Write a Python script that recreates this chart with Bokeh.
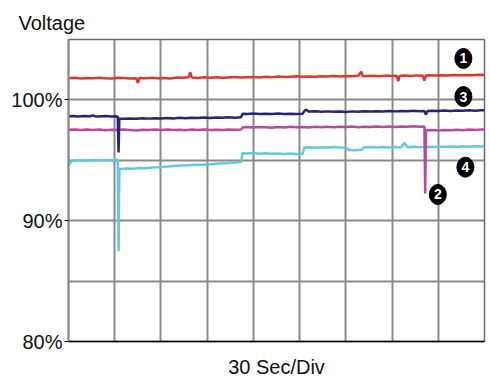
from bokeh.plotting import figure
from bokeh.models import FixedTicker, Range1d, ColumnDataSource
from bokeh.embed import file_html
from bokeh.resources import INLINE
from bokeh.core.properties import value

# ---- data (time in seconds, voltage in % of nominal) ----
red_t = [0, 4, 8, 12, 16, 20, 24, 28, 32, 36, 40, 44, 45, 46, 50, 54, 58, 62, 66, 70, 74, 78, 79, 80,
         84, 88, 92, 96, 100, 104, 108, 112, 116, 120, 124, 128, 132, 136, 140, 144, 148, 152, 156, 160,
         164, 168, 172, 176, 180, 184, 188, 190, 191, 194, 198, 202, 206, 210, 213, 214, 215, 218, 222,
         226, 230, 231, 232, 234, 238, 242, 246, 250, 254, 258, 262, 266, 270]
red_v = [101.80, 101.83, 101.78, 101.82, 101.79, 101.84, 101.80, 101.77, 101.83, 101.81, 101.78, 101.80,
         101.40, 101.82, 101.79, 101.84, 101.80, 101.82, 101.78, 101.86, 101.83, 101.88, 102.28, 101.85,
         101.82, 101.87, 101.84, 101.88, 101.83, 101.86, 101.89, 101.85, 101.88, 101.90, 101.86, 101.91,
         101.88, 101.93, 101.89, 101.92, 101.95, 101.91, 101.94, 101.92, 101.96, 101.93, 101.97, 101.94,
         101.98, 101.95, 101.99, 102.33, 101.96, 101.98, 102.00, 101.96, 102.01, 101.98, 102.00, 101.55,
         101.99, 102.02, 101.98, 102.03, 102.00, 101.60, 102.02, 102.04, 102.01, 102.05, 102.03, 102.06,
         102.04, 102.07, 102.05, 102.08, 102.07]

navy_t = [0, 3, 6, 10, 14, 16, 17, 20, 24, 28, 31, 32, 32.5, 33, 36, 40, 44, 48, 52, 56, 60, 64, 68, 72,
          76, 80, 84, 88, 92, 96, 100, 104, 108, 112, 113, 116, 120, 124, 128, 132, 136, 140, 144, 148,
          152, 153, 154, 156, 160, 164, 168, 172, 176, 180, 184, 188, 192, 196, 200, 204, 208, 212, 216,
          220, 224, 228, 231, 232, 233, 236, 240, 244, 248, 252, 256, 260, 264, 268, 270]
navy_v = [98.62, 98.66, 98.63, 98.67, 98.64, 98.72, 98.65, 98.63, 98.66, 98.62, 98.64, 98.60, 95.65,
          98.45, 98.43, 98.47, 98.44, 98.48, 98.45, 98.49, 98.46, 98.50, 98.47, 98.52, 98.48, 98.53,
          98.50, 98.54, 98.51, 98.55, 98.52, 98.56, 98.53, 98.57, 98.85, 98.83, 98.87, 98.84, 98.86,
          98.83, 98.87, 98.84, 98.86, 98.83, 98.86, 99.05, 99.20, 99.03, 99.06, 99.02, 99.05, 99.01,
          99.04, 99.00, 99.05, 99.02, 99.06, 99.03, 99.07, 99.04, 99.08, 99.05, 99.09, 99.06, 99.10,
          99.07, 99.08, 98.78, 99.09, 99.11, 99.08, 99.12, 99.09, 99.13, 99.10, 99.14, 99.11, 99.15, 99.14]

mag_t = [0, 4, 8, 12, 16, 20, 24, 28, 32, 36, 40, 44, 48, 52, 56, 60, 64, 68, 72, 76, 80, 84, 88, 92,
         96, 100, 104, 108, 112, 113, 116, 120, 124, 128, 132, 136, 140, 144, 148, 152, 156, 160, 164,
         168, 172, 176, 180, 184, 188, 192, 196, 200, 204, 208, 212, 216, 220, 224, 228, 231, 231.5,
         232, 236, 240, 244, 248, 252, 256, 260, 264, 268, 270]
mag_v = [97.52, 97.55, 97.50, 97.54, 97.51, 97.55, 97.49, 97.53, 97.50, 97.54, 97.51, 97.47, 97.53,
         97.50, 97.54, 97.51, 97.55, 97.50, 97.53, 97.49, 97.54, 97.51, 97.55, 97.50, 97.53, 97.51,
         97.55, 97.52, 97.54, 97.72, 97.75, 97.71, 97.76, 97.73, 97.70, 97.75, 97.72, 97.77, 97.73,
         97.76, 97.72, 97.78, 97.74, 97.77, 97.73, 97.78, 97.75, 97.79, 97.74, 97.78, 97.75, 97.80,
         97.76, 97.79, 97.75, 97.80, 97.77, 97.81, 97.78, 97.80, 92.25, 97.47, 97.50, 97.46, 97.51,
         97.48, 97.52, 97.49, 97.54, 97.51, 97.56, 97.55]

cyan_t = [0, 1, 2, 4, 8, 12, 16, 20, 24, 28, 32, 32.5, 33, 34, 38, 42, 46, 50, 54, 58, 62, 66, 70, 74,
          78, 82, 86, 90, 94, 98, 102, 106, 110, 112, 113, 116, 120, 124, 128, 132, 136, 140, 144, 148,
          152, 153, 156, 160, 164, 168, 172, 176, 180, 182, 186, 190, 192, 196, 200, 204, 208, 212, 216,
          218, 220, 224, 228, 232, 236, 240, 244, 248, 252, 256, 260, 264, 268, 270]
cyan_v = [94.55, 94.75, 94.92, 94.98, 95.00, 94.97, 95.02, 94.99, 95.03, 95.00, 95.05, 87.48, 94.30,
          94.28, 94.33, 94.31, 94.37, 94.34, 94.40, 94.42, 94.45, 94.50, 94.54, 94.57, 94.60, 94.63,
          94.62, 94.68, 94.70, 94.74, 94.76, 94.80, 94.84, 94.88, 95.58, 95.56, 95.60, 95.55, 95.58,
          95.54, 95.57, 95.53, 95.56, 95.52, 95.55, 96.05, 96.08, 96.04, 96.09, 96.05, 96.10, 96.06,
          96.03, 95.86, 95.83, 95.87, 96.08, 96.11, 96.07, 96.10, 96.06, 96.11, 96.08, 96.45, 96.09,
          96.12, 96.08, 96.13, 96.10, 96.14, 96.11, 96.15, 96.12, 96.16, 96.13, 96.17, 96.15, 96.17]

# numbered series markers (t, %)
mark_t = [256.3, 239.7, 256.3, 257.6]
mark_v = [103.43, 92.17, 100.28, 94.43]
mark_lbl = ["1", "2", "3", "4"]

y_ticks = [80, 90, 100]
y_labels = {80: "80%", 90: "90%", 100: "100%"}
grid_x = [30, 60, 90, 120, 150, 180, 210, 240]
grid_y = [85, 90, 95, 100]

FONT = "Liberation Sans"

p = figure(width=490, height=381, output_backend="svg", toolbar_location=None,
           x_range=Range1d(0, 270), y_range=Range1d(80, 105),
           min_border_left=68, min_border_right=6, min_border_top=39, min_border_bottom=40,
           background_fill_color="white", border_fill_color="white")

p.title.text = "Voltage"
p.title.align = "left"
p.title.offset = -50
p.title.text_font = FONT
p.title.text_font_size = "20px"
p.title.text_font_style = "normal"
p.title.text_color = "#111111"
p.title.standoff = 12

p.outline_line_color = "#6a6a6a"
p.outline_line_width = 1.5

p.xgrid.ticker = FixedTicker(ticks=grid_x)
p.ygrid.ticker = FixedTicker(ticks=grid_y)
for g in (p.xgrid, p.ygrid):
    g.grid_line_color = "#8a8a8a"
    g.grid_line_width = 2

# y axis
p.yaxis.ticker = FixedTicker(ticks=y_ticks)
p.yaxis.major_label_overrides = y_labels
p.yaxis.major_label_text_font = FONT
p.yaxis.major_label_text_font_size = "20px"
p.yaxis.major_label_text_color = "#111111"
p.yaxis.major_label_standoff = 2
p.yaxis.major_tick_out = 4
p.yaxis.major_tick_in = 0
p.yaxis.major_tick_line_color = "black"
p.yaxis.minor_tick_line_color = None
p.yaxis.axis_line_color = "#8a8a8a"
p.yaxis.axis_line_width = 2

# x axis
p.xaxis.ticker = FixedTicker(ticks=[])
p.xaxis.major_label_text_font_size = "0px"
p.xaxis.major_label_standoff = 0
p.xaxis.major_tick_line_color = None
p.xaxis.minor_tick_line_color = None
p.xaxis.axis_line_color = "black"
p.xaxis.axis_line_width = 1.5
p.xaxis.axis_label = "30 Sec/Div"
p.xaxis.axis_label_text_font = FONT
p.xaxis.axis_label_text_font_size = "20px"
p.xaxis.axis_label_text_font_style = "normal"
p.xaxis.axis_label_text_color = "#111111"
p.xaxis.axis_label_standoff = 14

lw = 2.5
p.line(red_t, red_v, line_color="#d93a2b", line_width=lw)
p.line(cyan_t, cyan_v, line_color="#62c9da", line_width=lw)
p.line(mag_t, mag_v, line_color="#b84a9e", line_width=lw)
p.line(navy_t, navy_v, line_color="#262478", line_width=lw)

src = ColumnDataSource(dict(x=mark_t, y=mark_v, t=mark_lbl))
p.ellipse(x="x", y="y", width=17, height=20, width_units="screen", height_units="screen",
          source=src, fill_color="black", line_color="black")
p.text(x="x", y="y", text="t", source=src, text_color="white", text_font=value(FONT),
       text_font_size="14px", text_font_style="bold", text_align="center", text_baseline="middle")

open("out.html", "w").write(file_html(p, INLINE))
